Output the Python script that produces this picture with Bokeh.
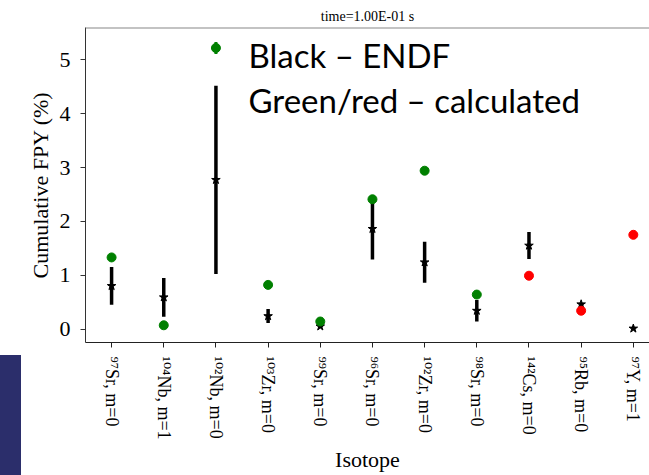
from bokeh.plotting import figure
from bokeh.models import Range1d, FixedTicker, Label, Span, InlineStyleSheet
from bokeh.embed import file_html
from bokeh.resources import INLINE

# ---- data ----
isotopes = ["⁹⁷Sr, m=0", "¹⁰⁴Nb, m=1", "¹⁰²Nb, m=0", "¹⁰³Zr, m=0", "⁹⁹Sr, m=0",
            "⁹⁶Sr, m=0", "¹⁰²Zr, m=0", "⁹⁸Sr, m=0", "¹⁴²Cs, m=0", "⁹⁵Rb, m=0", "⁹⁷Y, m=1"]
endf = [0.80, 0.59, 2.77, 0.24, 0.05, 1.86, 1.24, 0.34, 1.55, 0.46, 0.01]
endf_err = [0.35, 0.36, 1.75, 0.13, 0.03, 0.57, 0.38, 0.20, 0.25, 0.03, 0.01]
calc = [1.33, 0.07, 5.22, 0.82, 0.14, 2.41, 2.94, 0.64, 0.99, 0.34, 1.75]
calc_err = [0.02, 0.02, 0.11, 0.02, 0.02, 0.02, 0.02, 0.02, 0.02, 0.02, 0.02]
calc_color = ["green"] * 8 + ["red"] * 3
y_ticks = [0, 1, 2, 3, 4, 5]

xs = list(range(len(isotopes)))

p = figure(width=649, height=475, output_backend="svg", toolbar_location=None,
           x_range=Range1d(-0.5, 10.31), y_range=Range1d(-0.25, 5.6),
           min_border_left=85, min_border_right=0, min_border_top=27, min_border_bottom=133,
           title="time=1.00E-01 s")
p.outline_line_color = None
p.xgrid.visible = False
p.ygrid.visible = False
p.background_fill_color = "white"
p.border_fill_color = "white"

serif = "'Liberation Serif', 'DejaVu Serif', serif"
p.title.text_font = serif
p.title.text_font_size = "14px"
p.title.text_font_style = "normal"
p.title.text_color = "black"
p.title.align = "center"
p.title.offset = 4
p.title.standoff = 7

# y axis
p.yaxis.ticker = FixedTicker(ticks=y_ticks)
p.yaxis.minor_tick_line_color = None
p.yaxis.major_tick_in = 0
p.yaxis.major_tick_out = 5
p.yaxis.major_label_text_font = serif
p.yaxis.major_label_text_font_size = "22px"
p.yaxis.major_label_text_color = "black"
p.yaxis.major_label_standoff = 10
p.yaxis.axis_label = "Cumulative FPY (%)"
p.yaxis.axis_label_text_font = serif
p.yaxis.axis_label_text_font_size = "22px"
p.yaxis.axis_label_text_font_style = "normal"
p.yaxis.axis_label_text_color = "black"
p.yaxis.axis_label_standoff = 4
p.yaxis.axis_line_color = "#333333"
p.yaxis.major_tick_line_color = "#333333"

# x axis
p.xaxis.ticker = FixedTicker(ticks=xs)
p.xaxis.major_label_overrides = {i: lab for i, lab in zip(xs, isotopes)}
p.xaxis.major_label_orientation = "vertical"
p.xaxis.minor_tick_line_color = None
p.xaxis.major_tick_in = 0
p.xaxis.major_tick_out = 5
p.xaxis.major_label_text_font = serif
p.xaxis.major_label_text_font_size = "18px"
p.xaxis.major_label_text_color = "black"
p.xaxis.major_label_standoff = 9
p.xaxis.axis_label = "Isotope"
p.xaxis.axis_label_text_font = serif
p.xaxis.axis_label_text_font_size = "22px"
p.xaxis.axis_label_text_font_style = "normal"
p.xaxis.axis_label_text_color = "black"
p.xaxis.axis_label_standoff = 4
p.xaxis.axis_line_color = "#222222"
p.xaxis.major_tick_line_color = "#222222"

# top frame line
p.add_layout(Span(location=5.6, dimension="width", line_color="#888888", line_width=2))

# ENDF error bars and markers
lo = [v - e for v, e in zip(endf, endf_err)]
hi = [v + e for v, e in zip(endf, endf_err)]
p.segment(x0=xs, y0=lo, x1=xs, y1=hi, line_color="black", line_width=3.5)
p.scatter(xs, endf, marker="star", size=9, color="black")

# calculated
clo = [v - e for v, e in zip(calc, calc_err)]
chi = [v + e for v, e in zip(calc, calc_err)]
p.segment(x0=xs, y0=clo, x1=xs, y1=chi, line_color=calc_color, line_width=3)
p.scatter(xs, calc, marker="circle", size=9, color=calc_color)

# annotation text (screen units are relative to the plot frame)
p.add_layout(Label(x=163, y=288, x_units="screen", y_units="screen", text="Black – ENDF",
                   text_font="Lato", text_font_size="33px", text_color="black",
                   text_baseline="alphabetic"))
p.add_layout(Label(x=163, y=243, x_units="screen", y_units="screen", text="Green/red – calculated",
                   text_font="Lato", text_font_size="33px", text_color="black",
                   text_baseline="alphabetic"))

# slide decoration (dark blue strip at bottom-left of the slide)
p.stylesheets = [InlineStyleSheet(css=(
    ":host { position: relative; }"
    ":host::after { content: ''; position: absolute; left: 0px; top: 355px; "
    "width: 21px; height: 120px; background: #2b2e6b; z-index: 100; }"))]

open("out.html", "w").write(file_html(p, INLINE))
